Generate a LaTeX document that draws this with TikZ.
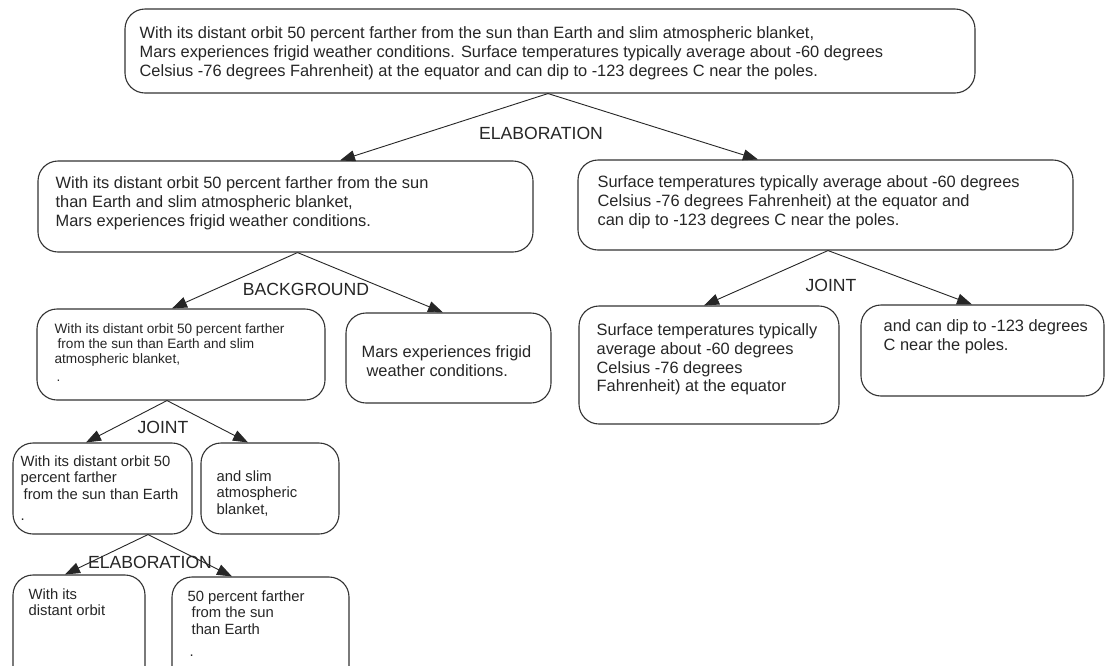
\documentclass[tikz,border=0pt]{standalone}
\usepackage{fontspec}
\setmainfont{Liberation Sans}
\usetikzlibrary{positioning,arrows.meta}

\tikzset{
  rstbox/.style={draw=black!80, line width=1.1pt, rounded corners=20pt, inner sep=0pt},
  rsttext/.style={align=left, inner sep=0pt, text=black!85, font=\fontsize{16.4}{18.8}\selectfont},
  rstsmall/.style={rsttext, font=\fontsize{14.8}{16.6}\selectfont},
  rsttiny/.style={rsttext, font=\fontsize{13.6}{14.8}\selectfont},
  relation/.style={inner sep=0pt, text=black!85, font=\fontsize{17.6}{20}\selectfont},
  rstarrow/.style={-{Triangle[length=15pt,width=11pt]}, line width=0.9pt, black!85},
}

\begin{document}
\begin{tikzpicture}[x=1pt,y=-1pt]
  \path[use as bounding box, fill=white] (0,0) rectangle (1106,665);
  \clip (0,0) rectangle (1106,665);

  % boxes
  \node[rstbox, minimum width=850pt, minimum height=84pt] (marsAll) at (550,51) {};
  \node[rstbox, minimum width=495pt, minimum height=91pt] (marsCold) at (285.5,206.5) {};
  \node[rstbox, minimum width=495pt, minimum height=90pt] (marsTemp) at (825.5,205) {};
  \node[rstbox, minimum width=288pt, minimum height=91pt] (orbitBlanket) at (181,354.5) {};
  \node[rstbox, minimum width=205pt, minimum height=90pt] (frigid) at (448.5,358) {};
  \node[rstbox, minimum width=260pt, minimum height=118pt] (tempEquator) at (709,365) {};
  \node[rstbox, minimum width=243pt, minimum height=91pt] (tempPoles) at (982.5,350.5) {};
  \node[rstbox, minimum width=179pt, minimum height=91pt] (orbitEarth) at (102.5,488.5) {};
  \node[rstbox, minimum width=138pt, minimum height=91pt] (slimBlanket) at (270,488.5) {};
  \node[rstbox, minimum width=132pt, minimum height=135pt] (distantOrbit) at (79,642.5) {};
  \node[rstbox, minimum width=177pt, minimum height=135pt] (percentFarther) at (260.5,644.5) {};

  % texts
  \node[rsttext, below right=18pt and 15pt of marsAll.north west] (marsAllTxt)
    {With its distant orbit 50 percent farther from the sun than Earth and slim atmospheric blanket,\\
     Mars experiences frigid weather conditions. Surface temperatures typically average about -60 degrees\\
     Celsius -76 degrees Fahrenheit) at the equator and can dip to -123 degrees C near the poles.};
  \node[rsttext, below right=16pt and 18pt of marsCold.north west] (marsColdTxt)
    {With its distant orbit 50 percent farther from the sun\\
     than Earth and slim atmospheric blanket,\\
     Mars experiences frigid weather conditions.};
  \node[rsttext, below right=16pt and 20pt of marsTemp.north west] (marsTempTxt)
    {Surface temperatures typically average about -60 degrees\\
     Celsius -76 degrees Fahrenheit) at the equator and\\
     can dip to -123 degrees C near the poles.};
  \node[rsttiny, below right=15pt and 18pt of orbitBlanket.north west] (orbitBlanketTxt)
    {With its distant orbit 50 percent farther\\
     \hspace{3pt}from the sun than Earth and slim\\
     atmospheric blanket,\\[4pt]
     \hspace{2pt}.};
  \node[rsttext, below right=33pt and 16pt of frigid.north west] (frigidTxt)
    {Mars experiences frigid\\
     \hspace{5pt}weather conditions.};
  \node[rsttext, below right=18pt and 18pt of tempEquator.north west] (tempEquatorTxt)
    {Surface temperatures typically\\
     average about -60 degrees\\
     Celsius -76 degrees\\
     Fahrenheit) at the equator};
  \node[rsttext, below right=15pt and 23pt of tempPoles.north west] (tempPolesTxt)
    {and can dip to -123 degrees\\
     C near the poles.};
  \node[rstsmall, below right=13pt and 8pt of orbitEarth.north west] (orbitEarthTxt)
    {With its distant orbit 50\\
     percent farther\\
     \hspace{3pt}from the sun than Earth\\[4pt]
     .};
  \node[rstsmall, below right=28pt and 16pt of slimBlanket.north west] (slimBlanketTxt)
    {and slim\\
     atmospheric\\
     blanket,};
  \node[rstsmall, below right=14pt and 16pt of distantOrbit.north west] (distantOrbitTxt)
    {With its\\
     distant orbit};
  \node[rstsmall, below right=14pt and 16pt of percentFarther.north west] (percentFartherTxt)
    {50 percent farther\\
     \hspace{4pt}from the sun\\
     \hspace{4pt}than Earth\\[5pt]
     \hspace{2pt}.};

  % relations
  \node[relation] (elabTop) at (541,133) {ELABORATION};
  \node[relation] (background) at (306,289) {BACKGROUND};
  \node[relation] (jointRight) at (831,285) {JOINT};
  \node[relation] (jointLeft) at (163,427) {JOINT};
  \node[relation] (elabBottom) at (150,562) {ELABORATION};

  \draw [rstarrow] ([xshift=-2pt]marsAll.south) -- ([xshift=54.5pt]marsCold.north);
  \draw [rstarrow] ([xshift=-2pt]marsAll.south) -- ([xshift=-67.5pt]marsTemp.north);
  \draw [rstarrow] ([xshift=12pt]marsCold.south) -- ([xshift=-9pt]orbitBlanket.north);
  \draw [rstarrow] ([xshift=12pt]marsCold.south) -- ([xshift=-5.5pt]frigid.north);
  \draw [rstarrow] ([xshift=2.5pt]marsTemp.south) -- ([xshift=-5pt]tempEquator.north);
  \draw [rstarrow] ([xshift=2.5pt]marsTemp.south) -- ([xshift=-10.5pt]tempPoles.north);
  \draw [rstarrow] ([xshift=-14pt]orbitBlanket.south) -- ([xshift=-16.5pt]orbitEarth.north);
  \draw [rstarrow] ([xshift=-14pt]orbitBlanket.south) -- ([xshift=-22pt]slimBlanket.north);
  \draw [rstarrow] ([xshift=45.5pt]orbitEarth.south) -- ([xshift=-14pt]distantOrbit.north);
  \draw [rstarrow] ([xshift=45.5pt]orbitEarth.south) -- ([xshift=-28.5pt]percentFarther.north);
\end{tikzpicture}
\end{document}
